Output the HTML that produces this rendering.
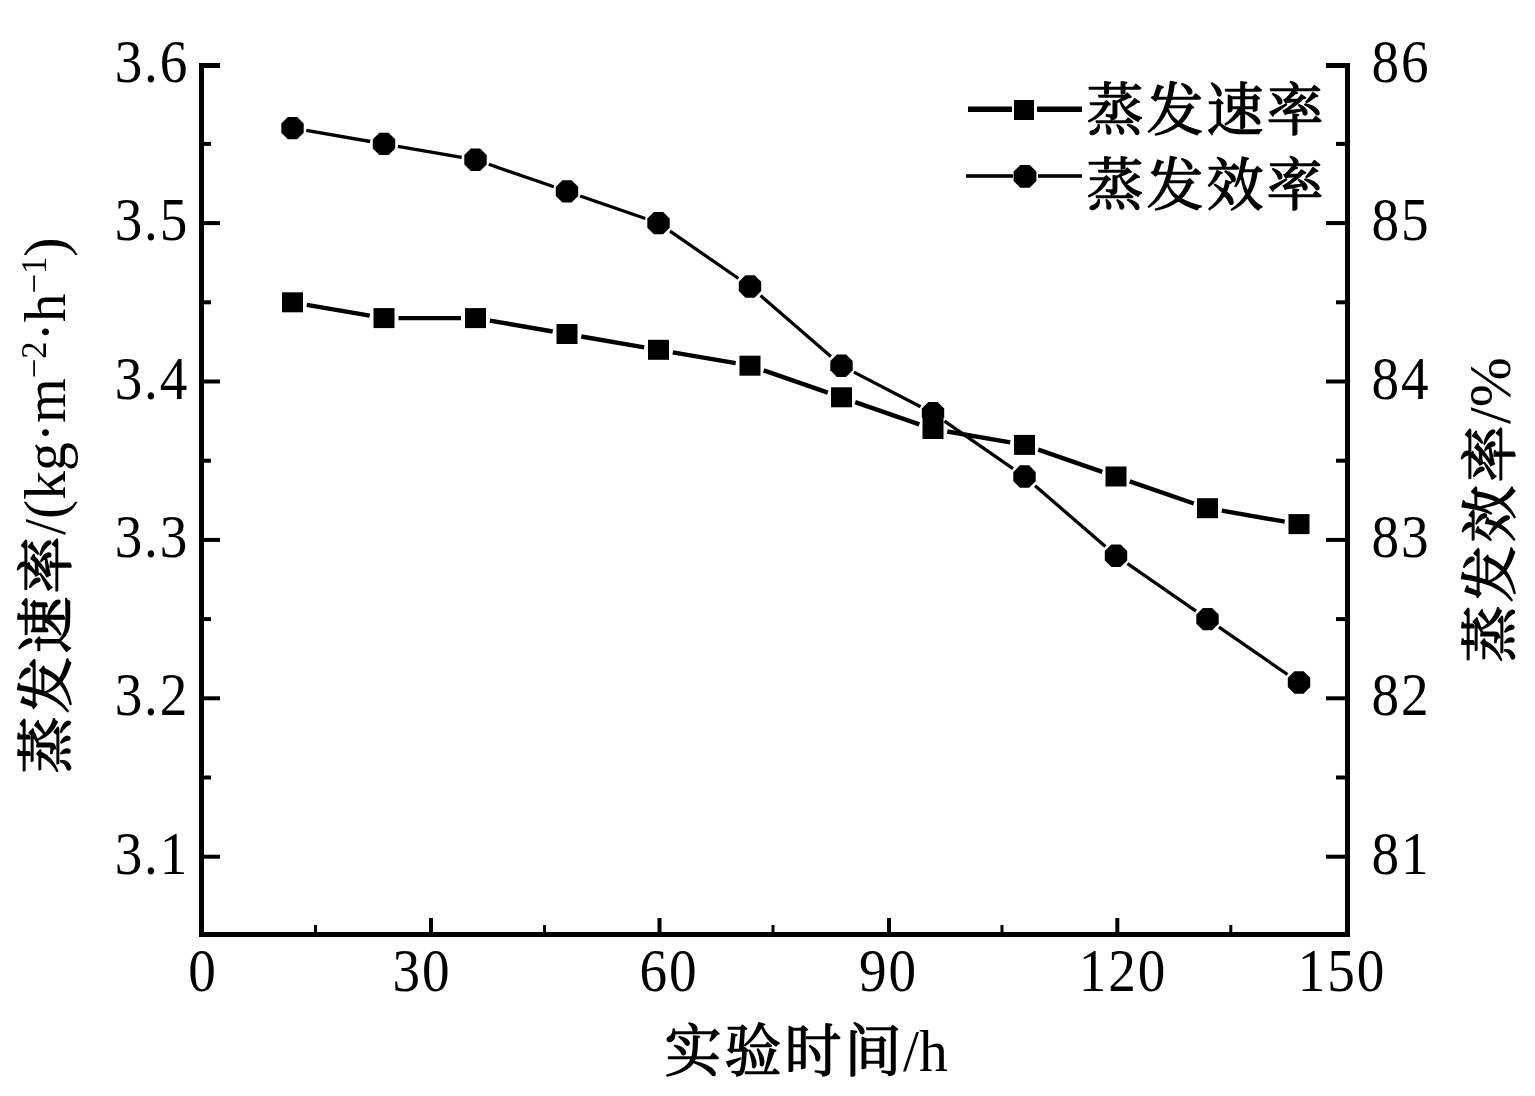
<!DOCTYPE html>
<html lang="zh-CN">
<head>
<meta charset="utf-8">
<title>蒸发速率与蒸发效率随实验时间的变化</title>
<style>
html,body{margin:0;padding:0;background:#fff;}
body{width:1535px;height:1096px;overflow:hidden;}
svg{display:block;}
.t{letter-spacing:2px;}
.c{font-size:57px;letter-spacing:3px;font-weight:400;stroke:#000;stroke-width:1.3px;stroke-linejoin:round;}
</style>
</head>
<body>
<svg width="1535" height="1096" viewBox="0 0 1535 1096">
<rect width="1535" height="1096" fill="#fff"/>
<g fill="#000">
<rect x="199" y="63" width="5" height="874"/>
<rect x="1345" y="63" width="5" height="874"/>
<rect x="199" y="932" width="1151" height="5"/>
<rect x="199" y="63" width="21" height="5"/>
<rect x="1326" y="63" width="24" height="5"/>
<rect x="204" y="221.1" width="16" height="4"/>
<rect x="1326" y="221.1" width="19" height="4"/>
<rect x="204" y="379.5" width="16" height="4"/>
<rect x="1326" y="379.5" width="19" height="4"/>
<rect x="204" y="537.9" width="16" height="4"/>
<rect x="1326" y="537.9" width="19" height="4"/>
<rect x="204" y="696.3" width="16" height="4"/>
<rect x="1326" y="696.3" width="19" height="4"/>
<rect x="204" y="854.7" width="16" height="4"/>
<rect x="1326" y="854.7" width="19" height="4"/>
<rect x="204" y="141.9" width="7" height="4"/>
<rect x="1336" y="141.9" width="9" height="4"/>
<rect x="204" y="300.3" width="7" height="4"/>
<rect x="1336" y="300.3" width="9" height="4"/>
<rect x="204" y="458.7" width="7" height="4"/>
<rect x="1336" y="458.7" width="9" height="4"/>
<rect x="204" y="617.1" width="7" height="4"/>
<rect x="1336" y="617.1" width="9" height="4"/>
<rect x="204" y="775.5" width="7" height="4"/>
<rect x="1336" y="775.5" width="9" height="4"/>
<rect x="429.0" y="918" width="4" height="14"/>
<rect x="657.5" y="918" width="4" height="14"/>
<rect x="887.0" y="918" width="4" height="14"/>
<rect x="1115.3" y="918" width="4" height="14"/>
<rect x="314.0" y="925" width="3" height="7"/>
<rect x="543.0" y="925" width="3" height="7"/>
<rect x="771.5" y="925" width="3" height="7"/>
<rect x="1000.5" y="925" width="3" height="7"/>
<rect x="1229.3" y="925" width="3" height="7"/>
</g>
<g stroke="#000" fill="none" stroke-linecap="butt">
<line x1="306.8" y1="304.8" x2="369.7" y2="315.7" stroke-width="4.4"/>
<line x1="398.5" y1="318.1" x2="461.0" y2="318.1" stroke-width="4.4"/>
<line x1="489.8" y1="320.6" x2="552.7" y2="331.5" stroke-width="4.4"/>
<line x1="581.3" y1="336.5" x2="644.2" y2="347.3" stroke-width="4.4"/>
<line x1="672.8" y1="352.3" x2="735.7" y2="363.2" stroke-width="4.4"/>
<line x1="763.7" y1="370.4" x2="827.8" y2="392.6" stroke-width="4.4"/>
<line x1="855.2" y1="402.1" x2="919.3" y2="424.3" stroke-width="4.4"/>
<line x1="947.3" y1="431.5" x2="1010.2" y2="442.4" stroke-width="4.4"/>
<line x1="1038.2" y1="449.6" x2="1102.3" y2="471.8" stroke-width="4.4"/>
<line x1="1129.7" y1="481.3" x2="1193.8" y2="503.5" stroke-width="4.4"/>
<line x1="1221.8" y1="510.7" x2="1284.7" y2="521.6" stroke-width="4.4"/>
<line x1="306.3" y1="130.4" x2="370.2" y2="141.5" stroke-width="3.3"/>
<line x1="397.8" y1="146.3" x2="461.7" y2="157.4" stroke-width="3.3"/>
<line x1="488.7" y1="164.3" x2="553.8" y2="186.8" stroke-width="3.3"/>
<line x1="580.2" y1="196.0" x2="645.3" y2="218.5" stroke-width="3.3"/>
<line x1="670.0" y1="231.1" x2="738.5" y2="278.5" stroke-width="3.3"/>
<line x1="760.6" y1="295.6" x2="830.9" y2="356.5" stroke-width="3.3"/>
<line x1="853.9" y1="372.1" x2="920.6" y2="406.7" stroke-width="3.3"/>
<line x1="944.5" y1="421.2" x2="1013.0" y2="468.6" stroke-width="3.3"/>
<line x1="1035.1" y1="485.7" x2="1105.4" y2="546.6" stroke-width="3.3"/>
<line x1="1127.5" y1="563.7" x2="1196.0" y2="611.1" stroke-width="3.3"/>
<line x1="1219.0" y1="627.1" x2="1287.5" y2="674.5" stroke-width="3.3"/>
</g>
<g fill="#000">
<polygon points="287.9,116.9 297.1,116.9 303.7,123.4 303.7,132.7 297.1,139.3 287.9,139.3 281.3,132.7 281.3,123.4"/>
<polygon points="379.4,132.7 388.6,132.7 395.2,139.3 395.2,148.5 388.6,155.1 379.4,155.1 372.8,148.5 372.8,139.3"/>
<polygon points="470.9,148.5 480.1,148.5 486.7,155.1 486.7,164.4 480.1,170.9 470.9,170.9 464.3,164.4 464.3,155.1"/>
<polygon points="562.4,180.2 571.6,180.2 578.2,186.8 578.2,196.1 571.6,202.6 562.4,202.6 555.8,196.1 555.8,186.8"/>
<polygon points="653.9,211.9 663.1,211.9 669.7,218.5 669.7,227.7 663.1,234.3 653.9,234.3 647.3,227.7 647.3,218.5"/>
<polygon points="745.4,275.3 754.6,275.3 761.2,281.8 761.2,291.1 754.6,297.7 745.4,297.7 738.8,291.1 738.8,281.8"/>
<polygon points="836.9,354.5 846.1,354.5 852.7,361.0 852.7,370.3 846.1,376.9 836.9,376.9 830.3,370.3 830.3,361.0"/>
<polygon points="928.4,402.0 937.6,402.0 944.2,408.5 944.2,417.8 937.6,424.4 928.4,424.4 921.8,417.8 921.8,408.5"/>
<polygon points="1019.9,465.3 1029.1,465.3 1035.7,471.9 1035.7,481.2 1029.1,487.7 1019.9,487.7 1013.3,481.2 1013.3,471.9"/>
<polygon points="1111.4,544.5 1120.6,544.5 1127.2,551.1 1127.2,560.4 1120.6,566.9 1111.4,566.9 1104.8,560.4 1104.8,551.1"/>
<polygon points="1202.9,607.9 1212.1,607.9 1218.7,614.5 1218.7,623.7 1212.1,630.3 1202.9,630.3 1196.3,623.7 1196.3,614.5"/>
<polygon points="1294.4,671.3 1303.6,671.3 1310.2,677.8 1310.2,687.1 1303.6,693.7 1294.4,693.7 1287.8,687.1 1287.8,677.8"/>
<rect x="282.0" y="292.3" width="21" height="20"/>
<rect x="373.5" y="308.1" width="21" height="20"/>
<rect x="465.0" y="308.1" width="21" height="20"/>
<rect x="556.5" y="324.0" width="21" height="20"/>
<rect x="648.0" y="339.8" width="21" height="20"/>
<rect x="739.5" y="355.7" width="21" height="20"/>
<rect x="831.0" y="387.3" width="21" height="20"/>
<rect x="922.5" y="419.0" width="21" height="20"/>
<rect x="1014.0" y="434.9" width="21" height="20"/>
<rect x="1105.5" y="466.5" width="21" height="20"/>
<rect x="1197.0" y="498.2" width="21" height="20"/>
<rect x="1288.5" y="514.1" width="21" height="20"/>
</g>
<g fill="#000">
<rect x="968" y="106.5" width="44" height="5.5"/>
<rect x="1037" y="106.5" width="45" height="5.5"/>
<rect x="1014" y="100" width="20" height="20"/>
<rect x="966" y="174.2" width="47" height="3.6"/>
<rect x="1038" y="174.2" width="44" height="3.6"/>
<polygon points="1020.3,164.9 1029.7,164.9 1036.4,171.6 1036.4,181.0 1029.7,187.7 1020.3,187.7 1013.6,181.0 1013.6,171.6"/>
</g>
<g fill="#000" font-family="'Liberation Serif', 'Noto Serif CJK SC', serif" font-size="60">
<text transform="translate(189.2,81.7) scale(0.92,1.03)" text-anchor="end" class="t">3.6</text>
<text transform="translate(189.2,240.1) scale(0.92,1.03)" text-anchor="end" class="t">3.5</text>
<text transform="translate(189.2,398.5) scale(0.92,1.03)" text-anchor="end" class="t">3.4</text>
<text transform="translate(189.2,556.9) scale(0.92,1.03)" text-anchor="end" class="t">3.3</text>
<text transform="translate(189.2,715.3) scale(0.92,1.03)" text-anchor="end" class="t">3.2</text>
<text transform="translate(189.2,873.7) scale(0.92,1.03)" text-anchor="end" class="t">3.1</text>
<text transform="translate(1371.5,81.7) scale(0.92,1.03)" class="t">86</text>
<text transform="translate(1371.5,240.1) scale(0.92,1.03)" class="t">85</text>
<text transform="translate(1371.5,398.5) scale(0.92,1.03)" class="t">84</text>
<text transform="translate(1371.5,556.9) scale(0.92,1.03)" class="t">83</text>
<text transform="translate(1371.5,715.3) scale(0.92,1.03)" class="t">82</text>
<text transform="translate(1371.5,873.7) scale(0.92,1.03)" class="t">81</text>
<text transform="translate(203.0,990.5) scale(0.92,1.03)" text-anchor="middle" class="t">0</text>
<text transform="translate(422.0,990.5) scale(0.92,1.03)" text-anchor="middle" class="t">30</text>
<text transform="translate(669.0,990.5) scale(0.92,1.03)" text-anchor="middle" class="t">60</text>
<text transform="translate(888.5,990.5) scale(0.92,1.03)" text-anchor="middle" class="t">90</text>
<text transform="translate(1123.0,990.5) scale(0.92,1.03)" text-anchor="middle" class="t">120</text>
<text transform="translate(1342.0,990.5) scale(0.92,1.03)" text-anchor="middle" class="t">150</text>
<text x="1085" y="129.5"><tspan class="c" dx="1.5">蒸发速率</tspan></text>
<text x="1085" y="204.5"><tspan class="c" dx="1.5">蒸发效率</tspan></text>
<text x="663" y="1071"><tspan class="c" dx="1.5">实验时间</tspan></text>
<text transform="translate(903,1071) scale(0.96,1)">/h</text>
<text transform="translate(66,775) rotate(-90)"><tspan class="c" dx="1.5">蒸发速率</tspan></text>
<text transform="translate(65,535) rotate(-90) scale(0.96,1)">/(kg·m<tspan font-size="36" dy="-19.5">−2</tspan><tspan dy="19.5">·h</tspan><tspan font-size="36" dy="-19.5">−1</tspan><tspan dy="19.5">)</tspan></text>
<text transform="translate(1509.5,664) rotate(-90)"><tspan class="c" dx="1.5">蒸发效率</tspan><tspan dx="-1.5">/%</tspan></text>
</g>
</svg>
</body>
</html>
